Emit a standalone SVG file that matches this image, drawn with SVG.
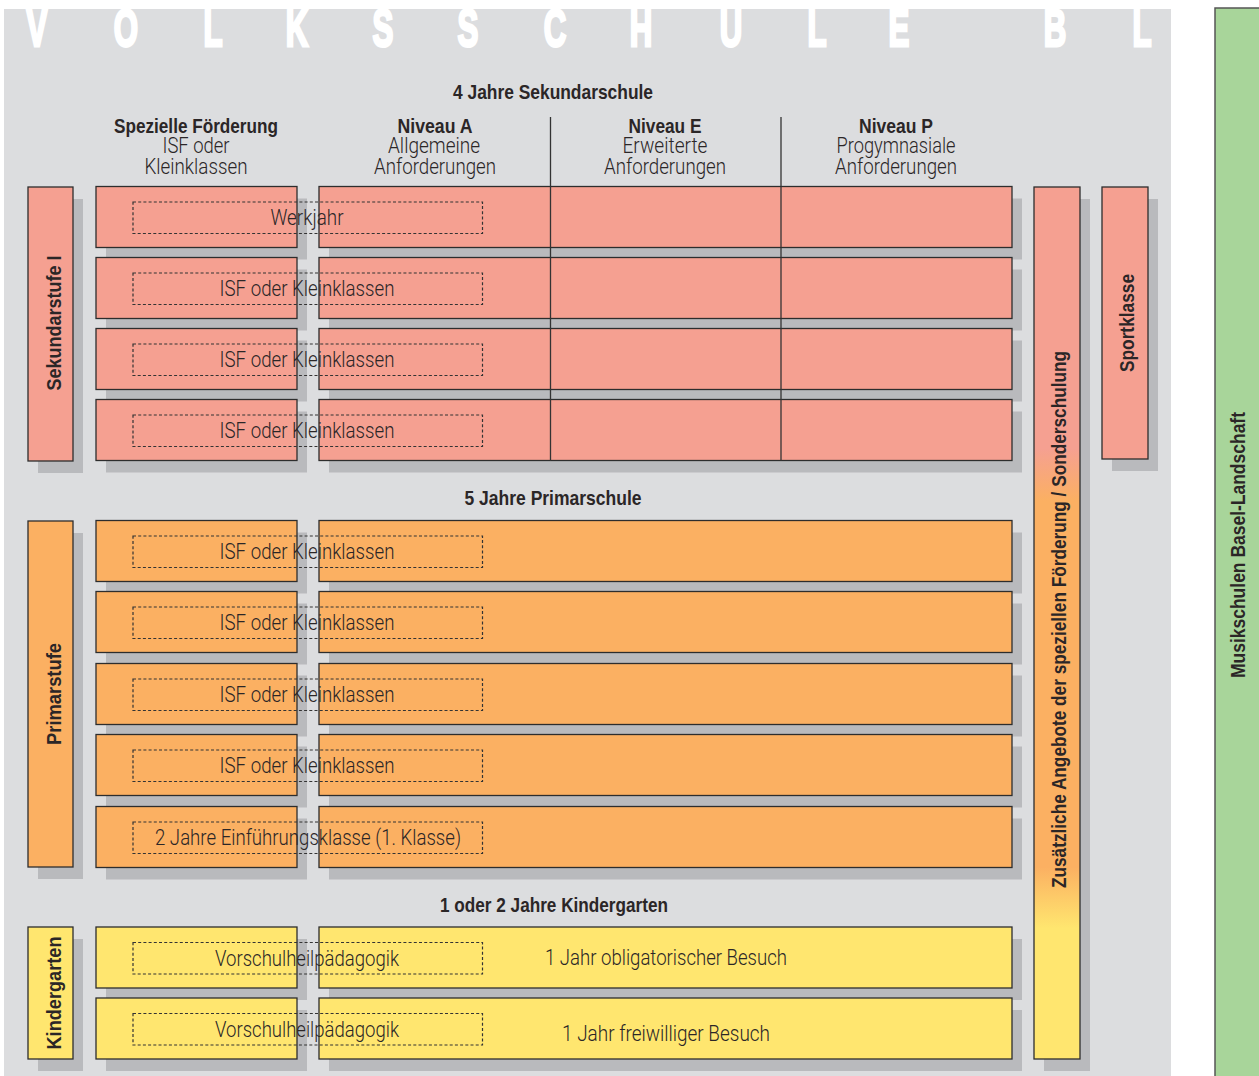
<svg xmlns="http://www.w3.org/2000/svg" width="1259" height="1076" viewBox="0 0 1259 1076">
<defs>
<linearGradient id="gz" x1="0" y1="0" x2="0" y2="1">
<stop offset="0" stop-color="#f5a091"/>
<stop offset="0.3" stop-color="#f5a091"/>
<stop offset="0.36" stop-color="#fbb062"/>
<stop offset="0.78" stop-color="#fbb062"/>
<stop offset="0.85" stop-color="#ffe66f"/>
<stop offset="1" stop-color="#ffe66f"/>
</linearGradient>
</defs>
<style>
.bg{fill:#dcdddf}
.sh{fill:#b9babd}
.s{fill:#f5a091;stroke:#2d2d2d;stroke-width:1.3}
.o{fill:#fbb062;stroke:#2d2d2d;stroke-width:1.3}
.y{fill:#ffe66f;stroke:#2d2d2d;stroke-width:1.3}
.d{fill:none;stroke:#333;stroke-width:1.2;stroke-dasharray:3 2.2}
.t{font-family:Roboto,"Liberation Sans",sans-serif;font-weight:300;font-size:22px;fill:#2b2627;text-anchor:middle}
.b{font-family:"Liberation Sans",sans-serif;font-size:21px;font-weight:bold;fill:#2b2627;text-anchor:middle}
.big{font-family:"Liberation Sans",sans-serif;font-size:52px;font-weight:bold;fill:#ffffff;stroke:#ffffff;stroke-width:3;text-anchor:middle}
.ln{stroke:#333;stroke-width:1.3}
</style>
<rect x="0" y="0" width="1259" height="1076" fill="#ffffff"/>
<rect class="bg" x="4" y="9" width="1167" height="1067"/>
<g id="musikschulen">
<rect x="1215" y="8" width="50" height="1080" fill="#a8d59a" stroke="#555" stroke-width="1.5"/>
<text class="b" transform="translate(1245,545) rotate(-90)" textLength="266" lengthAdjust="spacingAndGlyphs">Musikschulen Basel-Landschaft</text>
</g>
<g id="title" transform="scale(0.6,1)">
<text class="big" x="61.7 210 355 495 638.3 780 925 1068.3 1218.3 1361.7 1498.3 1758.3 1903.3" y="46">VOLKSSCHULEBL</text>
</g>
<g id="headers">
<text class="b" x="553" y="99" textLength="200" lengthAdjust="spacingAndGlyphs">4 Jahre Sekundarschule</text>
<text class="b" x="196" y="133" textLength="164" lengthAdjust="spacingAndGlyphs">Spezielle Förderung</text>
<text class="t" x="196" y="153" textLength="67" lengthAdjust="spacingAndGlyphs">ISF oder</text>
<text class="t" x="196" y="174" textLength="103" lengthAdjust="spacingAndGlyphs">Kleinklassen</text>
<text class="b" x="435" y="133" textLength="75" lengthAdjust="spacingAndGlyphs">Niveau A</text>
<text class="t" x="434" y="153" textLength="92" lengthAdjust="spacingAndGlyphs">Allgemeine</text>
<text class="t" x="435" y="174" textLength="122" lengthAdjust="spacingAndGlyphs">Anforderungen</text>
<text class="b" x="665" y="133" textLength="73" lengthAdjust="spacingAndGlyphs">Niveau E</text>
<text class="t" x="665" y="153" textLength="85" lengthAdjust="spacingAndGlyphs">Erweiterte</text>
<text class="t" x="665" y="174" textLength="122" lengthAdjust="spacingAndGlyphs">Anforderungen</text>
<text class="b" x="896" y="133" textLength="74" lengthAdjust="spacingAndGlyphs">Niveau P</text>
<text class="t" x="896" y="153" textLength="119" lengthAdjust="spacingAndGlyphs">Progymnasiale</text>
<text class="t" x="896" y="174" textLength="122" lengthAdjust="spacingAndGlyphs">Anforderungen</text>
<text class="b" x="553" y="505" textLength="177" lengthAdjust="spacingAndGlyphs">5 Jahre Primarschule</text>
<text class="b" x="554" y="912" textLength="228" lengthAdjust="spacingAndGlyphs">1 oder 2 Jahre Kindergarten</text>
</g>
<g id="shadows">
<rect class="sh" x="38" y="199" width="45" height="274"/>
<rect class="sh" x="38" y="533" width="45" height="346"/>
<rect class="sh" x="38" y="939" width="45" height="132"/>
<rect class="sh" x="1044" y="199" width="46" height="872"/>
<rect class="sh" x="1112" y="199" width="46" height="272"/>
<rect class="sh" x="106" y="198.5" width="201" height="61"/><rect class="sh" x="329" y="198.5" width="693" height="61"/>
<rect class="sh" x="106" y="269.5" width="201" height="61"/><rect class="sh" x="329" y="269.5" width="693" height="61"/>
<rect class="sh" x="106" y="340.5" width="201" height="61"/><rect class="sh" x="329" y="340.5" width="693" height="61"/>
<rect class="sh" x="106" y="411.5" width="201" height="61"/><rect class="sh" x="329" y="411.5" width="693" height="61"/>
<rect class="sh" x="106" y="532.5" width="201" height="61"/><rect class="sh" x="329" y="532.5" width="693" height="61"/>
<rect class="sh" x="106" y="603.5" width="201" height="61"/><rect class="sh" x="329" y="603.5" width="693" height="61"/>
<rect class="sh" x="106" y="675.5" width="201" height="61"/><rect class="sh" x="329" y="675.5" width="693" height="61"/>
<rect class="sh" x="106" y="746.5" width="201" height="61"/><rect class="sh" x="329" y="746.5" width="693" height="61"/>
<rect class="sh" x="106" y="818.5" width="201" height="61"/><rect class="sh" x="329" y="818.5" width="693" height="61"/>
<rect class="sh" x="106" y="939" width="201" height="61"/><rect class="sh" x="329" y="939" width="693" height="61"/>
<rect class="sh" x="106" y="1010" width="201" height="61"/><rect class="sh" x="329" y="1010" width="693" height="61"/>
</g>
<g id="sekundarstufe">
<rect class="s" x="28" y="187" width="45" height="274"/>
<text class="b" transform="translate(60.5,323) rotate(-90)" textLength="135" lengthAdjust="spacingAndGlyphs">Sekundarstufe I</text>
</g>
<g id="primarstufe">
<rect class="o" x="28" y="521" width="45" height="346"/>
<text class="b" transform="translate(60.5,694) rotate(-90)" textLength="102" lengthAdjust="spacingAndGlyphs">Primarstufe</text>
</g>
<g id="kindergarten">
<rect class="y" x="28" y="927" width="45" height="132"/>
<text class="b" transform="translate(60.5,993) rotate(-90)" textLength="113" lengthAdjust="spacingAndGlyphs">Kindergarten</text>
</g>
<g id="zusaetzliche">
<rect x="1034" y="187" width="46" height="872" fill="url(#gz)" stroke="#2d2d2d" stroke-width="1.3"/>
<text class="b" transform="translate(1066,619.5) rotate(-90)" textLength="537" lengthAdjust="spacingAndGlyphs">Zusätzliche Angebote der speziellen Förderung / Sonderschulung</text>
</g>
<g id="sportklasse">
<rect class="s" x="1102" y="187" width="46" height="272"/>
<text class="b" transform="translate(1133.5,323) rotate(-90)" textLength="98" lengthAdjust="spacingAndGlyphs">Sportklasse</text>
</g>
<g id="sek-row1"><rect class="s" x="96" y="186.5" width="201" height="61"/><rect class="s" x="319" y="186.5" width="693" height="61"/><rect class="d" x="133" y="202" width="349.5" height="31.5"/><text class="t" x="307" y="225" textLength="73" lengthAdjust="spacingAndGlyphs">Werkjahr</text></g>
<g id="sek-row2"><rect class="s" x="96" y="257.5" width="201" height="61"/><rect class="s" x="319" y="257.5" width="693" height="61"/><rect class="d" x="133" y="273" width="349.5" height="31.5"/><text class="t" x="307" y="296" textLength="175" lengthAdjust="spacingAndGlyphs">ISF oder Kleinklassen</text></g>
<g id="sek-row3"><rect class="s" x="96" y="328.5" width="201" height="61"/><rect class="s" x="319" y="328.5" width="693" height="61"/><rect class="d" x="133" y="344" width="349.5" height="31.5"/><text class="t" x="307" y="367" textLength="175" lengthAdjust="spacingAndGlyphs">ISF oder Kleinklassen</text></g>
<g id="sek-row4"><rect class="s" x="96" y="399.5" width="201" height="61"/><rect class="s" x="319" y="399.5" width="693" height="61"/><rect class="d" x="133" y="415" width="349.5" height="31.5"/><text class="t" x="307" y="438" textLength="175" lengthAdjust="spacingAndGlyphs">ISF oder Kleinklassen</text></g>
<g id="pri-row1"><rect class="o" x="96" y="520.5" width="201" height="61"/><rect class="o" x="319" y="520.5" width="693" height="61"/><rect class="d" x="133" y="536" width="349.5" height="31.5"/><text class="t" x="307" y="559" textLength="175" lengthAdjust="spacingAndGlyphs">ISF oder Kleinklassen</text></g>
<g id="pri-row2"><rect class="o" x="96" y="591.5" width="201" height="61"/><rect class="o" x="319" y="591.5" width="693" height="61"/><rect class="d" x="133" y="607" width="349.5" height="31.5"/><text class="t" x="307" y="630" textLength="175" lengthAdjust="spacingAndGlyphs">ISF oder Kleinklassen</text></g>
<g id="pri-row3"><rect class="o" x="96" y="663.5" width="201" height="61"/><rect class="o" x="319" y="663.5" width="693" height="61"/><rect class="d" x="133" y="679" width="349.5" height="31.5"/><text class="t" x="307" y="702" textLength="175" lengthAdjust="spacingAndGlyphs">ISF oder Kleinklassen</text></g>
<g id="pri-row4"><rect class="o" x="96" y="734.5" width="201" height="61"/><rect class="o" x="319" y="734.5" width="693" height="61"/><rect class="d" x="133" y="750" width="349.5" height="31.5"/><text class="t" x="307" y="773" textLength="175" lengthAdjust="spacingAndGlyphs">ISF oder Kleinklassen</text></g>
<g id="pri-row5"><rect class="o" x="96" y="806.5" width="201" height="61"/><rect class="o" x="319" y="806.5" width="693" height="61"/><rect class="d" x="133" y="822" width="349.5" height="31.5"/><text class="t" x="308" y="845" textLength="306" lengthAdjust="spacingAndGlyphs">2 Jahre Einführungsklasse (1. Klasse)</text></g>
<g id="kg-row1"><rect class="y" x="96" y="927" width="201" height="61"/><rect class="y" x="319" y="927" width="693" height="61"/><rect class="d" x="133" y="942.5" width="349.5" height="31.5"/><text class="t" x="307" y="965.5" textLength="184" lengthAdjust="spacingAndGlyphs">Vorschulheilpädagogik</text><text class="t" x="666" y="965" textLength="242" lengthAdjust="spacingAndGlyphs">1 Jahr obligatorischer Besuch</text></g>
<g id="kg-row2"><rect class="y" x="96" y="998" width="201" height="61"/><rect class="y" x="319" y="998" width="693" height="61"/><rect class="d" x="133" y="1013.5" width="349.5" height="31.5"/><text class="t" x="307" y="1036.5" textLength="184" lengthAdjust="spacingAndGlyphs">Vorschulheilpädagogik</text><text class="t" x="666" y="1041" textLength="208" lengthAdjust="spacingAndGlyphs">1 Jahr freiwilliger Besuch</text></g>
<g id="connectors">
<line class="ln" x1="550.5" y1="117" x2="550.5" y2="461"/>
<line class="ln" x1="781" y1="117" x2="781" y2="461"/>
</g>
</svg>
